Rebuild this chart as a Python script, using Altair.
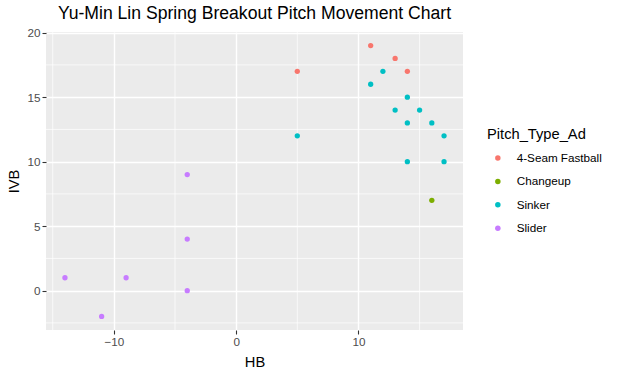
import altair as alt
import pandas as pd

pitch_types = ["4-Seam Fastball", "Changeup", "Sinker", "Slider"]
colors = ["#F8766D", "#7CAE00", "#00BFC4", "#C77CFF"]

fastball_hb = [5, 11, 13, 14]
fastball_ivb = [17, 19, 18, 17]
changeup_hb = [16]
changeup_ivb = [7]
sinker_hb = [11, 12, 14, 13, 15, 14, 16, 17, 5, 14, 17]
sinker_ivb = [16, 17, 15, 14, 14, 13, 13, 12, 12, 10, 10]
slider_hb = [-4, -4, -4, -9, -14, -11]
slider_ivb = [9, 4, 0, 1, 1, -2]

x_major = [-10, 0, 10]
x_minor = [-15, -5, 5, 15]
y_major = [0, 5, 10, 15, 20]
y_minor = [-2.5, 2.5, 7.5, 12.5, 17.5]

rows = []
for name, hb, ivb in [
    ("4-Seam Fastball", fastball_hb, fastball_ivb),
    ("Changeup", changeup_hb, changeup_ivb),
    ("Sinker", sinker_hb, sinker_ivb),
    ("Slider", slider_hb, slider_ivb),
]:
    for h, v in zip(hb, ivb):
        rows.append({"HB": h, "IVB": v, "Pitch_Type_Ad": name})
df = pd.DataFrame(rows)

all_x = fastball_hb + changeup_hb + sinker_hb + slider_hb
all_y = fastball_ivb + changeup_ivb + sinker_ivb + slider_ivb
xr = max(all_x) - min(all_x)
yr = max(all_y) - min(all_y)
x_dom = [min(all_x) - 0.05 * xr, max(all_x) + 0.05 * xr]
y_dom = [min(all_y) - 0.05 * yr, max(all_y) + 0.05 * yr]

FONT = "Liberation Sans"

xs = alt.Scale(domain=x_dom, nice=False, zero=False)
ys = alt.Scale(domain=y_dom, nice=False, zero=False)
x_axis = alt.Axis(values=x_major, format="d", title="HB")
y_axis = alt.Axis(values=y_major, format="d", title="IVB")

vminor = alt.Chart(pd.DataFrame({"HB": x_minor})).mark_rule(
    color="white", strokeWidth=0.7
).encode(x=alt.X("HB:Q", scale=xs, axis=x_axis))

hminor = alt.Chart(pd.DataFrame({"IVB": y_minor})).mark_rule(
    color="white", strokeWidth=0.7
).encode(y=alt.Y("IVB:Q", scale=ys, axis=y_axis))

points = alt.Chart(df).mark_circle(size=28, opacity=1).encode(
    x=alt.X("HB:Q", scale=xs, axis=x_axis),
    y=alt.Y("IVB:Q", scale=ys, axis=y_axis),
    color=alt.Color(
        "Pitch_Type_Ad:N",
        scale=alt.Scale(domain=pitch_types, range=colors),
        legend=alt.Legend(
            title="Pitch_Type_Ad",
            orient="none",
            legendX=441,
            legendY=94.5,
            symbolType="circle",
            symbolSize=30,
            symbolOffset=5,
            labelOffset=13,
            rowPadding=10.4,
            titlePadding=11,
            padding=0,
            titleFont=FONT,
            titleFontSize=14.7,
            titleFontWeight="normal",
            titleColor="black",
            labelFont=FONT,
            labelFontSize=11.7,
            labelColor="black",
        ),
    ),
)

chart = alt.layer(vminor, hminor, points).properties(
    width=417,
    height=298,
    background="white",
    autosize=alt.AutoSizeParams(type="none"),
    padding={"left": 46, "top": 32, "right": 155, "bottom": 46},
    title=alt.TitleParams(
        "Yu-Min Lin Spring Breakout Pitch Movement Chart",
        anchor="middle",
        frame="group",
        font=FONT,
        fontSize=17.6,
        fontWeight="normal",
        color="black",
        offset=5,
    ),
).configure_view(
    fill="#EBEBEB", strokeWidth=0
).configure_axis(
    domain=False,
    grid=True,
    gridColor="white",
    gridWidth=1.4,
    tickColor="#333333",
    tickSize=4,
    tickWidth=1.1,
    labelFont=FONT,
    labelFontSize=11.7,
    labelColor="#4D4D4D",
    labelPadding=2,
    titleFont=FONT,
    titleFontSize=14.7,
    titleFontWeight="normal",
    titleColor="black",
).configure_axisX(
    titlePadding=7
).configure_axisY(
    titlePadding=5
)

chart.save("out.html", embed_options={"renderer": "svg", "actions": False})
